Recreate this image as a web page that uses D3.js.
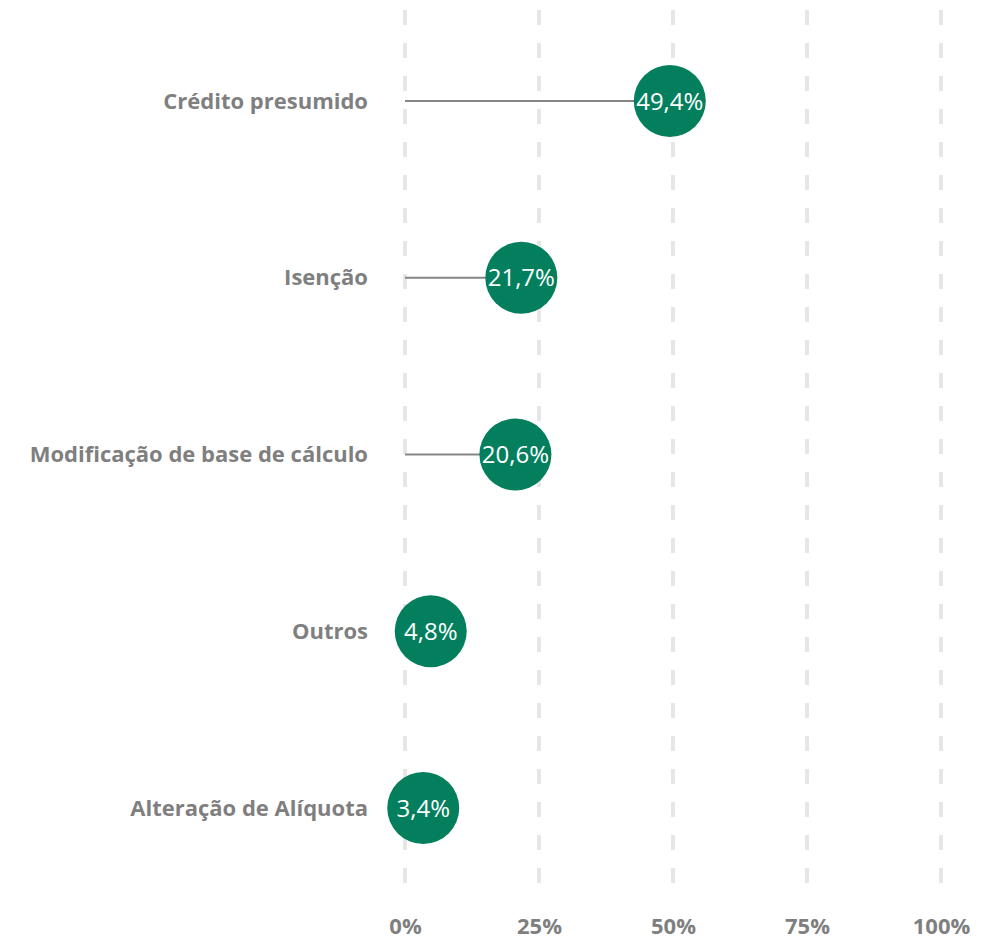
<!DOCTYPE html>
<html>
<head>
<meta charset="utf-8">
<script src="https://cdn.jsdelivr.net/npm/d3@7"></script>
<style>
  body { margin: 0; background: #fff; }
  svg text { font-family: "Open Sans", sans-serif; }
</style>
</head>
<body>
<div id="chart"></div>
<script>
const categories = ['Crédito presumido', 'Isenção', 'Modificação de base de cálculo', 'Outros', 'Alteração de Alíquota'];
const values = [49.4, 21.7, 20.6, 4.8, 3.4];
const tickValues = [0, 25, 50, 75, 100];

const width = 989;
const height = 942;
const margin = { top: 10, right: 48, bottom: 42, left: 405 };

const svg = d3.select('#chart')
  .append('svg')
  .attr('width', width)
  .attr('height', height);

const x = d3.scaleLinear()
  .domain([0, 100])
  .range([margin.left, width - margin.right]);

const y = d3.scalePoint()
  .domain(categories)
  .range([101, 808]);

// dashed gridlines
svg.append('g')
  .selectAll('line')
  .data(tickValues)
  .enter()
  .append('line')
  .attr('x1', (d) => x(d))
  .attr('x2', (d) => x(d))
  .attr('y1', margin.top)
  .attr('y2', height - margin.bottom)
  .attr('stroke', '#e6e6e6')
  .attr('stroke-width', 4)
  .attr('stroke-dasharray', '15 18');

// x axis labels
const xAxis = svg.append('g')
  .attr('transform', `translate(0, ${height - 27})`)
  .call(d3.axisBottom(x).tickValues(tickValues).tickSize(0).tickFormat((d) => d + '%'));
xAxis.select('.domain').remove();
xAxis.selectAll('text')
  .attr('fill', '#7f7f7f')
  .attr('font-size', 22)
  .attr('font-weight', 'bold')
  .attr('font-family', '"Open Sans", sans-serif');

// category labels
const yAxis = svg.append('g')
  .attr('transform', `translate(${margin.left - 37}, 0)`)
  .call(d3.axisLeft(y).tickSize(0).tickPadding(0));
yAxis.select('.domain').remove();
yAxis.selectAll('text')
  .attr('fill', '#7f7f7f')
  .attr('font-size', 22)
  .attr('font-weight', 'bold')
  .attr('font-family', '"Open Sans", sans-serif');

const rows = categories.map((c, i) => ({ category: c, value: values[i] }));

// stems
svg.append('g')
  .selectAll('line')
  .data(rows)
  .enter()
  .append('line')
  .attr('x1', x(0))
  .attr('x2', (d) => x(d.value))
  .attr('y1', (d) => y(d.category))
  .attr('y2', (d) => y(d.category))
  .attr('stroke', '#858585')
  .attr('stroke-width', 2);

// dots
svg.append('g')
  .selectAll('circle')
  .data(rows)
  .enter()
  .append('circle')
  .attr('cx', (d) => x(d.value))
  .attr('cy', (d) => y(d.category))
  .attr('r', 36)
  .attr('fill', '#037f5e');

// value labels
svg.append('g')
  .selectAll('text')
  .data(rows)
  .enter()
  .append('text')
  .attr('x', (d) => x(d.value))
  .attr('y', (d) => y(d.category))
  .attr('dy', '0.36em')
  .attr('text-anchor', 'middle')
  .attr('fill', '#fff')
  .attr('font-size', 24)
  .text((d) => d3.format('.1f')(d.value).replace('.', ',') + '%');
</script>
</body>
</html>
